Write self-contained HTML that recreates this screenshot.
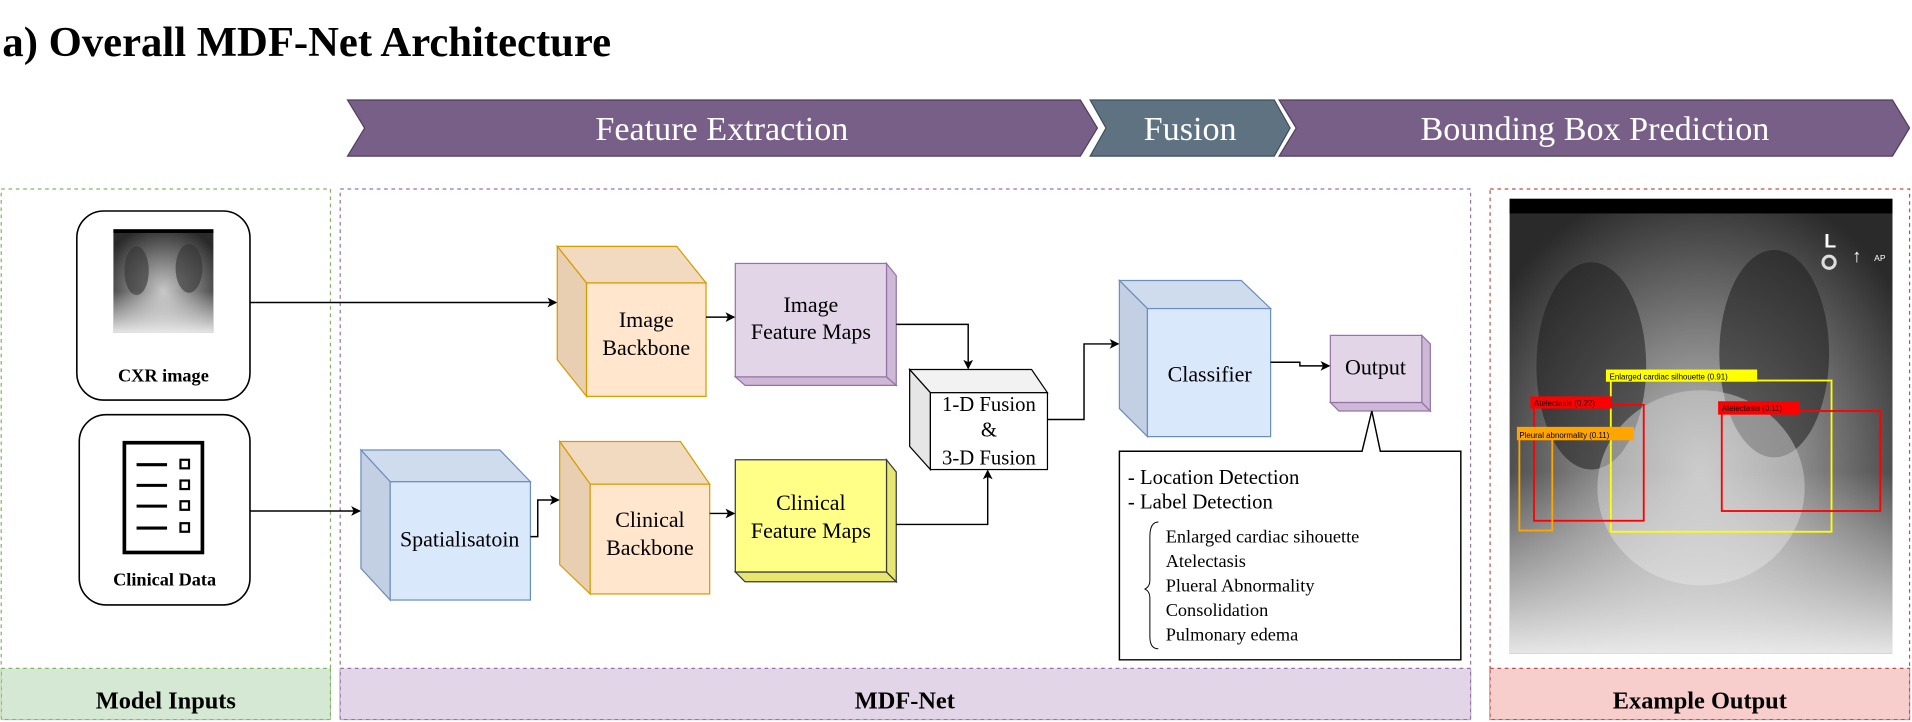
<!DOCTYPE html>
<html><head><meta charset="utf-8"><style>
html,body{margin:0;padding:0;background:#fff;overflow:hidden}
svg{display:block}
text{font-family:"Liberation Serif",serif}
text.s{font-family:"Liberation Sans",sans-serif}
</style></head><body>
<svg width="1912" height="722" viewBox="0 0 1568 592" preserveAspectRatio="none" xmlns="http://www.w3.org/2000/svg">
<defs>
<marker id="ar" markerWidth="8" markerHeight="8" refX="7" refY="4" orient="auto" markerUnits="userSpaceOnUse"><path d="M0,0 L8,4 L0,8 L2,4 z" fill="#000"/></marker>
<radialGradient id="lung" cx="0.5" cy="0.6" r="0.65"><stop offset="0" stop-color="#c8c8c8"/><stop offset="0.5" stop-color="#7a7a7a"/><stop offset="1" stop-color="#2a2a2a"/></radialGradient>
<linearGradient id="bot" x1="0" y1="0" x2="0" y2="1"><stop offset="0" stop-color="#fff" stop-opacity="0"/><stop offset="0.6" stop-color="#fff" stop-opacity="0"/><stop offset="1" stop-color="#f0f0f0" stop-opacity="0.95"/></linearGradient>
</defs>

<text x="2" y="46" font-size="35" font-weight="bold">a) Overall MDF-Net Architecture</text>

<!-- banner -->
<polygon points="285,82 886,82 900,105 886,128 285,128 299,105" fill="#775f87" stroke="#4f3f5c"/>
<polygon points="894,82 1045,82 1058,105 1045,128 894,128 907,105" fill="#5e7281" stroke="#3f4f5c"/>
<polygon points="1049,82 1552,82 1566,105 1552,128 1049,128 1063,105" fill="#775f87" stroke="#4f3f5c"/>
<text x="592" y="115" font-size="28" fill="#fff" text-anchor="middle">Feature Extraction</text>
<text x="976" y="115" font-size="28" fill="#fff" text-anchor="middle">Fusion</text>
<text x="1308" y="115" font-size="28" fill="#fff" text-anchor="middle">Bounding Box Prediction</text>

<!-- panels -->
<rect x="1" y="155" width="270" height="435" fill="none" stroke="#82b366" stroke-dasharray="3,3"/>
<rect x="1" y="548" width="270" height="42" fill="#d5e8d4" stroke="#82b366" stroke-dasharray="3,3"/>
<text x="136" y="581" font-size="20" font-weight="bold" text-anchor="middle">Model Inputs</text>
<rect x="279" y="155" width="927" height="435" fill="none" stroke="#9673a6" stroke-dasharray="3,3"/>
<rect x="279" y="548" width="927" height="42" fill="#e1d5e7" stroke="#9673a6" stroke-dasharray="3,3"/>
<text x="742" y="581" font-size="20" font-weight="bold" text-anchor="middle">MDF-Net</text>
<rect x="1222" y="155" width="344" height="435" fill="none" stroke="#b85450" stroke-dasharray="3,3"/>
<rect x="1222" y="548" width="344" height="42" fill="#f8cecc" stroke="#b85450" stroke-dasharray="3,3"/>
<text x="1394" y="581" font-size="20" font-weight="bold" text-anchor="middle">Example Output</text>

<!-- inputs -->
<rect x="63" y="173" width="142" height="155" rx="22" fill="#fff" stroke="#000" stroke-width="1.3"/>
<rect x="93" y="188" width="82" height="85" fill="url(#lung)"/>
<ellipse cx="112" cy="222" rx="10" ry="20" fill="#333" opacity="0.6"/>
<ellipse cx="155" cy="220" rx="11" ry="20" fill="#333" opacity="0.6"/>
<rect x="93" y="188" width="82" height="85" fill="url(#bot)"/>
<rect x="93" y="188" width="82" height="3" fill="#000"/>
<text x="134" y="313" font-size="15" font-weight="bold" text-anchor="middle">CXR image</text>
<rect x="65" y="340" width="140" height="156" rx="22" fill="#fff" stroke="#000" stroke-width="1.3"/>
<rect x="102" y="363" width="64" height="90" fill="#fff" stroke="#000" stroke-width="3"/>
<g stroke="#000" stroke-width="2.5"><line x1="112" y1="381" x2="137" y2="381"/><line x1="112" y1="398" x2="137" y2="398"/><line x1="112" y1="415" x2="137" y2="415"/><line x1="112" y1="433" x2="137" y2="433"/></g>
<g stroke="#000" stroke-width="1.8" fill="none"><rect x="148" y="377" width="7" height="7"/><rect x="148" y="394" width="7" height="7"/><rect x="148" y="411" width="7" height="7"/><rect x="148" y="429" width="7" height="7"/></g>
<text x="135" y="480" font-size="15" font-weight="bold" text-anchor="middle">Clinical Data</text>

<!-- Image backbone -->
<polygon points="457,202 555,202 579,232 481,232" fill="#f2dac1" stroke="#d79b00"/>
<polygon points="457,202 481,232 481,325 457,295" fill="#e8cfb2" stroke="#d79b00"/>
<rect x="481" y="232" width="98" height="93" fill="#ffe6cc" stroke="#d79b00"/>
<text x="530" y="268" font-size="18" text-anchor="middle">Image</text>
<text x="530" y="291" font-size="18" text-anchor="middle">Backbone</text>

<!-- Image feature maps -->
<polygon points="603,309 727,309 735,316 611,316" fill="#cdb8d6" stroke="#9673a6"/>
<polygon points="727,216 735,226 735,316 727,309" fill="#cdb8d6" stroke="#9673a6"/>
<rect x="603" y="216" width="124" height="93" fill="#e1d5e7" stroke="#9673a6"/>
<text x="665" y="256" font-size="18" text-anchor="middle">Image</text>
<text x="665" y="278" font-size="18" text-anchor="middle">Feature Maps</text>

<!-- Fusion -->
<polygon points="746,303 846,303 859,322 763,322" fill="#f2f2f2" stroke="#000"/>
<polygon points="746,303 763,322 763,385 746,366" fill="#e6e6e6" stroke="#000"/>
<rect x="763" y="322" width="96" height="63" fill="#fff" stroke="#000"/>
<text x="811" y="337" font-size="17" text-anchor="middle">1-D Fusion</text>
<text x="811" y="358" font-size="17" text-anchor="middle">&amp;</text>
<text x="811" y="381" font-size="17" text-anchor="middle">3-D Fusion</text>

<!-- Classifier -->
<polygon points="918,230 1018,230 1042,253 941,253" fill="#cfdcee" stroke="#6c8ebf"/>
<polygon points="918,230 941,253 941,358 918,335" fill="#c3cfe3" stroke="#6c8ebf"/>
<rect x="941" y="253" width="101" height="105" fill="#dae8fc" stroke="#6c8ebf"/>
<text x="992" y="313" font-size="18" text-anchor="middle">Classifier</text>

<!-- Output -->
<polygon points="1091,330 1166,330 1173,337 1098,337" fill="#cdb8d6" stroke="#9673a6"/>
<polygon points="1166,275 1173,282 1173,337 1166,330" fill="#cdb8d6" stroke="#9673a6"/>
<rect x="1091" y="275" width="75" height="55" fill="#e1d5e7" stroke="#9673a6"/>
<text x="1128" y="307" font-size="18" text-anchor="middle">Output</text>

<!-- Spatialisation -->
<polygon points="296,369 410,369 435,395 320,395" fill="#cfdcee" stroke="#6c8ebf"/>
<polygon points="296,369 320,395 320,492 296,466" fill="#c3cfe3" stroke="#6c8ebf"/>
<rect x="320" y="395" width="115" height="97" fill="#dae8fc" stroke="#6c8ebf"/>
<text x="377" y="448" font-size="18" text-anchor="middle">Spatialisatoin</text>

<!-- Clinical backbone -->
<polygon points="459,362 558,362 582,397 484,397" fill="#f2dac1" stroke="#d79b00"/>
<polygon points="459,362 484,397 484,487 459,463" fill="#e8cfb2" stroke="#d79b00"/>
<rect x="484" y="397" width="98" height="90" fill="#ffe6cc" stroke="#d79b00"/>
<text x="533" y="432" font-size="18" text-anchor="middle">Clinical</text>
<text x="533" y="455" font-size="18" text-anchor="middle">Backbone</text>

<!-- Clinical feature maps -->
<polygon points="603,469 727,469 735,477 611,477" fill="#e6e670" stroke="#36393d"/>
<polygon points="727,377 735,387 735,477 727,469" fill="#e6e670" stroke="#36393d"/>
<rect x="603" y="377" width="124" height="92" fill="#ffff88" stroke="#36393d"/>
<text x="665" y="418" font-size="18" text-anchor="middle">Clinical</text>
<text x="665" y="441" font-size="18" text-anchor="middle">Feature Maps</text>

<!-- arrows -->
<g fill="none" stroke="#000" stroke-width="1.2" marker-end="url(#ar)">
<path d="M205,248 H456"/>
<path d="M579,260 H602"/>
<path d="M735,266 H794 V302"/>
<path d="M205,419 H295"/>
<path d="M435,440 H441 V410 H458"/>
<path d="M582,421 H602"/>
<path d="M735,430 H810 V386"/>
<path d="M859,344 H889 V282 H917"/>
<path d="M1042,297 H1066 V300 H1090"/>
</g>

<!-- callout text box -->
<path d="M918,370 H1117 L1125,337 L1132,370 H1198 V541 H918 Z" fill="#fff" stroke="#000" stroke-width="1.2"/>
<text x="925" y="397" font-size="17">- Location Detection</text>
<text x="925" y="417" font-size="17">- Label Detection</text>
<path d="M950,428 Q943,428 943,440 V476 Q943,481 939,483 Q943,485 943,490 V522 Q943,532 950,532" fill="none" stroke="#000" stroke-width="0.8"/>
<text x="956" y="445" font-size="15">Enlarged cardiac sihouette</text>
<text x="956" y="465" font-size="15">Atelectasis</text>
<text x="956" y="485" font-size="15">Plueral Abnormality</text>
<text x="956" y="505" font-size="15">Consolidation</text>
<text x="956" y="525" font-size="15">Pulmonary edema</text>

<!-- example xray -->
<rect x="1238" y="163" width="314" height="373" fill="url(#lung)"/>
<ellipse cx="1305" cy="300" rx="45" ry="85" fill="#1e1e1e" opacity="0.55"/>
<ellipse cx="1455" cy="290" rx="45" ry="85" fill="#1e1e1e" opacity="0.55"/>
<ellipse cx="1395" cy="400" rx="85" ry="80" fill="#d0d0d0" opacity="0.5"/>
<rect x="1238" y="163" width="314" height="373" fill="url(#bot)"/>
<rect x="1238" y="163" width="314" height="12" fill="#000"/>
<text class="s" x="1496" y="203" font-size="16" fill="#fff" font-weight="bold">L</text>
<circle cx="1500" cy="215" r="5" fill="none" stroke="#ddd" stroke-width="2.5"/>
<text class="s" x="1519" y="215" font-size="15" fill="#fff" font-weight="bold">↑</text>
<text class="s" x="1537" y="214" font-size="7" fill="#fff">AP</text>
<g fill="none" stroke-width="1.5">
<rect x="1321" y="312" width="181" height="124" stroke="#ffff00"/>
<rect x="1258" y="332" width="90" height="95" stroke="#ff0000"/>
<rect x="1246" y="359" width="27" height="76" stroke="#ffa500"/>
<rect x="1412" y="337" width="130" height="82" stroke="#ff0000"/>
</g>
<g font-size="6.5">
<rect x="1317" y="303" width="124" height="10" fill="#ffff00"/><text class="s" x="1320" y="311" font-size="6.5">Enlarged cardiac silhouette (0.91)</text>
<rect x="1255" y="325" width="67" height="10" fill="#ff0000"/><text class="s" x="1258" y="333" font-size="6.5">Atelectasis (0.22)</text>
<rect x="1244" y="350" width="96" height="11" fill="#ffa500"/><text class="s" x="1246" y="359" font-size="6.5">Pleural abnormality (0.11)</text>
<rect x="1409" y="329" width="67" height="11" fill="#ff0000"/><text class="s" x="1412" y="337" font-size="6.5">Atelectasis (0.11)</text>
</g>
</svg>
</body></html>
